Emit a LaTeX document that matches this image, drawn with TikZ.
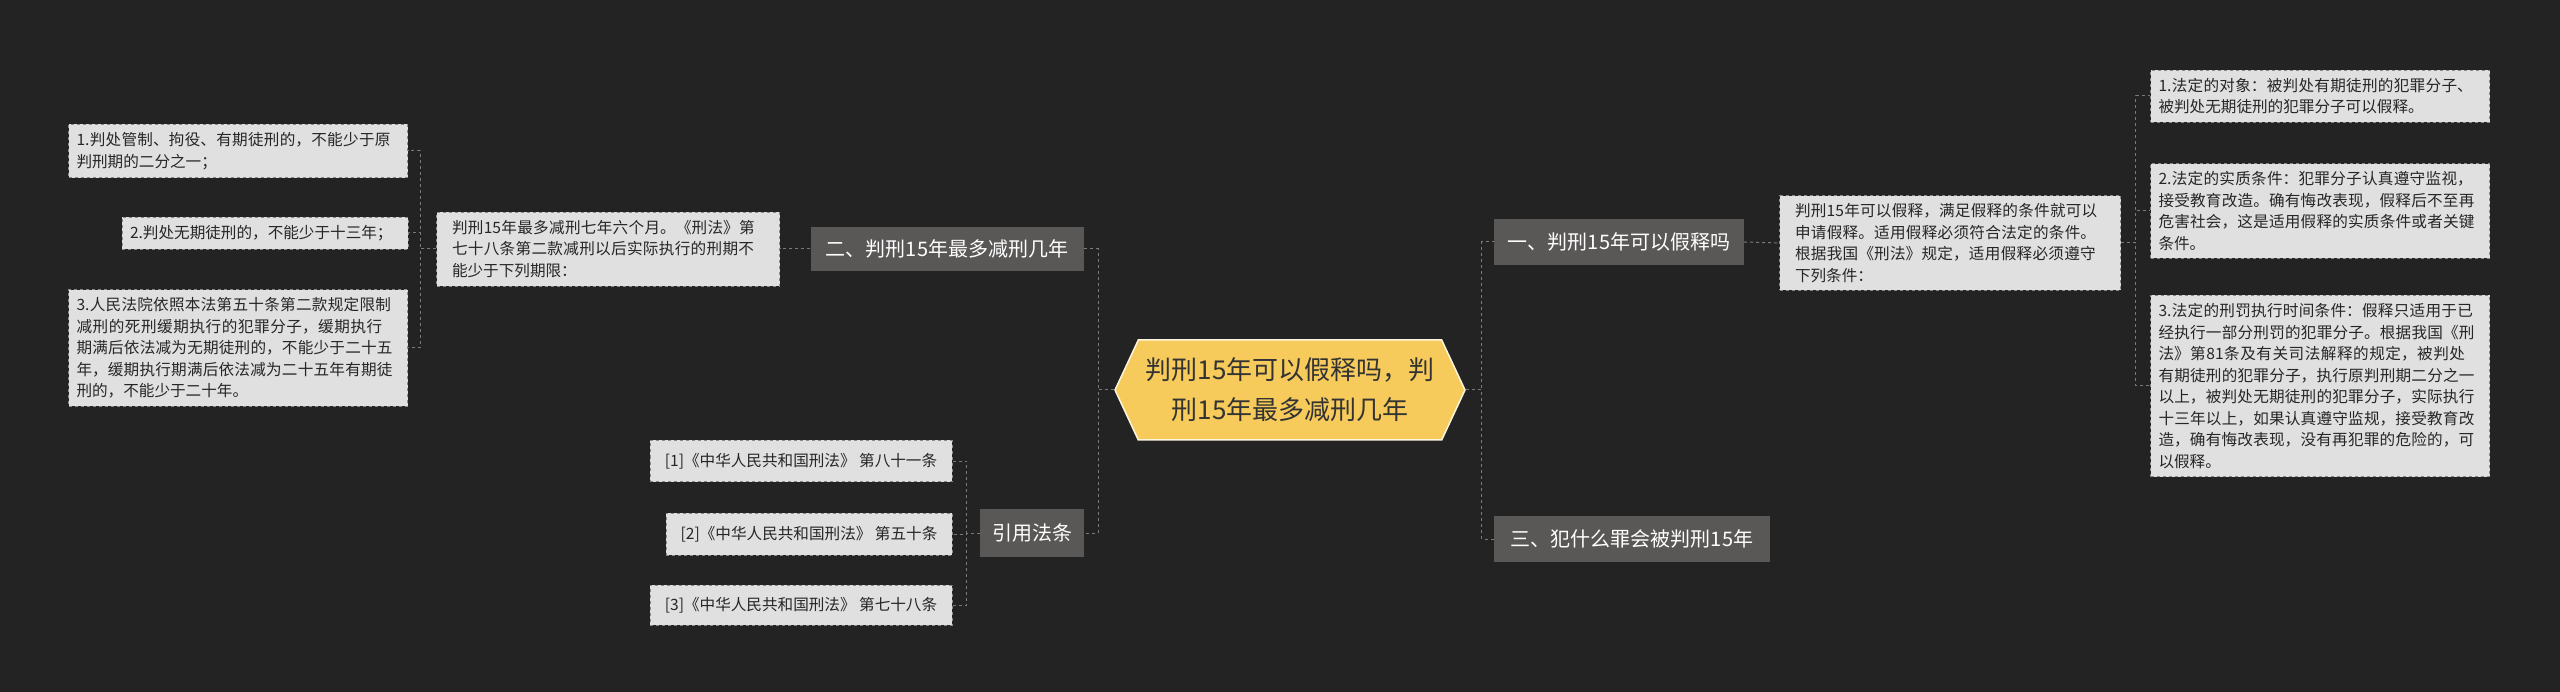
\documentclass[tikz,border=0pt]{standalone}
\usepackage{fontspec}
\setmainfont{Noto Sans CJK SC}
\XeTeXlinebreaklocale "zh"
\XeTeXlinebreakskip=0pt plus 1pt
\usetikzlibrary{shapes.symbols}
\definecolor{bg}{HTML}{232323}
\definecolor{leaff}{HTML}{E0E0E0}
\definecolor{leafd}{HTML}{8A8A8A}
\definecolor{branchf}{HTML}{5A5857}
\definecolor{conn}{HTML}{7A7A7A}
\definecolor{cen}{HTML}{F6CB5B}
\begin{document}
\begin{tikzpicture}[x=1pt,y=-1pt,
 leaf/.style={draw=leafd,dashed,fill=leaff,text=black!85,font=\fontsize{15.6}{21.5}\selectfont,align=left,inner sep=8pt},
 branch/.style={fill=branchf,text=white,font=\fontsize{20}{24}\selectfont,inner sep=0pt},
 link/.style={draw=conn,dashed,line width=1pt}]
\fill[bg] (0,0) rectangle (2560,692);
\useasboundingbox (0,0) rectangle (2560,692);
\node[signal,signal to=east and west,signal pointer angle=130,fill=cen,draw=white!80!cen,line width=1.5pt,minimum width=350pt,minimum height=100pt,align=center,text=black!80,font=\fontsize{26}{40}\selectfont] (c) at (1290,390) {判刑15年可以假释吗，判\\刑15年最多减刑几年};
% left branch
\node[branch,minimum width=273pt,minimum height=44pt] (b2) at (947,249) {二、判刑15年最多减刑几年};
\node[leaf,text width=312pt,minimum width=343pt] (t2) at (608,249) {判刑15年最多减刑七年六个月。《刑法》第七十八条第二款减刑以后实际执行的刑期不能少于下列期限：};
\node[leaf,text width=323pt] (l1) at (238,151) {1.判处管制、拘役、有期徒刑的，不能少于原判刑期的二分之一；};
\node[leaf,text width=270pt] (l2) at (265,233) {2.判处无期徒刑的，不能少于十三年；};
\node[leaf,text width=323pt] (l3) at (238,348) {3.人民法院依照本法第五十条第二款规定限制减刑的死刑缓期执行的犯罪分子，缓期执行期满后依法减为无期徒刑的，不能少于二十五年，缓期执行期满后依法减为二十五年有期徒刑的，不能少于二十年。};
\node[branch,minimum width=104pt,minimum height=48pt] (b4) at (1032,533) {引用法条};
\node[leaf,minimum width=302pt,minimum height=41pt,align=center,inner sep=4pt] (r1) at (801,461) {[1]《中华人民共和国刑法》 第八十一条};
\node[leaf,minimum width=286pt,minimum height=42pt,align=center,inner sep=4pt] (r2) at (809,534) {[2]《中华人民共和国刑法》 第五十条};
\node[leaf,minimum width=302pt,minimum height=40pt,align=center,inner sep=4pt] (r3) at (801,605) {[3]《中华人民共和国刑法》 第七十八条};
% right
\node[branch,minimum width=250pt,minimum height=46pt] (b1) at (1619,242) {一、判刑15年可以假释吗};
\node[leaf,text width=310pt,minimum width=341pt] (t1) at (1950,243) {判刑15年可以假释，满足假释的条件就可以申请假释。适用假释必须符合法定的条件。根据我国《刑法》规定，适用假释必须遵守下列条件：};
\node[leaf,text width=323pt] (p1) at (2320,96) {1.法定的对象：被判处有期徒刑的犯罪分子、被判处无期徒刑的犯罪分子可以假释。};
\node[leaf,text width=323pt] (p2) at (2320,211) {2.法定的实质条件：犯罪分子认真遵守监视，接受教育改造。确有悔改表现，假释后不至再危害社会，这是适用假释的实质条件或者关键条件。};
\node[leaf,text width=323pt] (p3) at (2320,386) {3.法定的刑罚执行时间条件：假释只适用于已经执行一部分刑罚的犯罪分子。根据我国《刑法》第81条及有关司法解释的规定，被判处有期徒刑的犯罪分子，执行原判刑期二分之一以上，被判处无期徒刑的犯罪分子，实际执行十三年以上，如果认真遵守监规，接受教育改造，确有悔改表现，没有再犯罪的危险的，可以假释。};
\node[branch,minimum width=276pt,minimum height=46pt] (b3) at (1632,539) {三、犯什么罪会被判刑15年};
% connectors
\foreach \b in {b2,b4} \draw[link] (c.west) -- ([xshift=-16pt]c.west) |- (\b.east);
\foreach \b in {b1,b3} \draw[link] (c.east) -- ([xshift=16pt]c.east) |- (\b.west);
\draw[link] (b2.west) -- (t2.east);
\draw[link] (b1.east) -- (t1.west);
\foreach \l in {l1,l2,l3} \draw[link] (t2.west) -- ([xshift=-16pt]t2.west) |- (\l.east);
\foreach \l in {r1,r2,r3} \draw[link] (b4.west) -- ([xshift=-13pt]b4.west) |- (\l.east);
\foreach \l in {p1,p2,p3} \draw[link] (t1.east) -- ([xshift=15pt]t1.east) |- (\l.west);
\end{tikzpicture}
\end{document}
